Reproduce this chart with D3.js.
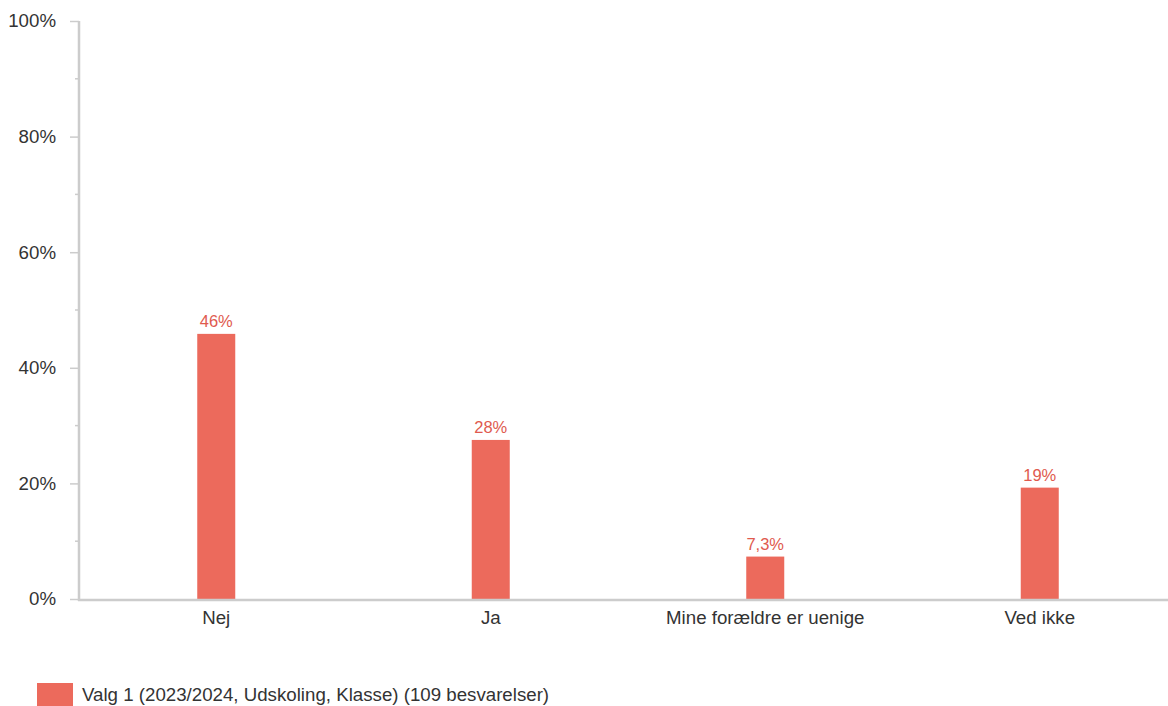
<!DOCTYPE html>
<html><head><meta charset="utf-8">
<script src="https://cdn.jsdelivr.net/npm/d3@7"></script>
<style>body{margin:0;background:#fff}svg{display:block;font-family:"Liberation Sans",Arial,sans-serif}</style>
</head><body><svg id="c" width="1168" height="706"></svg>
<script>
const categories = ["Nej", "Ja", "Mine forældre er uenige", "Ved ikke"];
const values = [45.87, 27.52, 7.34, 19.27];
const valueLabels = ["46%", "28%", "7,3%", "19%"];
const yTicks = [0, 20, 40, 60, 80, 100];
const yMinorTicks = [10, 30, 50, 70, 90];
const seriesName = "Valg 1 (2023/2024, Udskoling, Klasse) (109 besvarelser)";

(function () {
const svg = d3.select("#c");
const mLeft = 79, mTop = 21, mBottom = 599;
const x = d3.scaleBand().domain(categories).range([mLeft, 1177]).paddingInner(0).paddingOuter(0);
const y = d3.scaleLinear().domain([0, 100]).range([mBottom, mTop]);
const barW = 38;
const barColor = "#EC6A5C", labelColor = "#E05A4E", axisColor = "#cccccc", textColor = "#333";
const fs = "18.7px";

// y axis
const ya = svg.append("g").attr("transform", `translate(${mLeft},0)`)
  .call(d3.axisLeft(y).tickValues(yTicks).tickFormat(d => d + "%").tickSize(9).tickPadding(14));
ya.select(".domain").remove();
ya.selectAll("line").attr("stroke", axisColor).attr("stroke-width", 1.5);
ya.selectAll("text").attr("fill", textColor).style("font-size", fs);
svg.append("g").selectAll("line").data(yMinorTicks).join("line")
  .attr("x1", mLeft - 4).attr("x2", mLeft).attr("y1", d => y(d)).attr("y2", d => y(d))
  .attr("stroke", axisColor).attr("stroke-width", 1.5);
svg.append("line").attr("x1", mLeft).attr("x2", mLeft).attr("y1", mTop).attr("y2", mBottom + 2)
  .attr("stroke", axisColor).attr("stroke-width", 2.5);

// bars
svg.append("g").selectAll("rect").data(values).join("rect")
  .attr("x", (d, i) => x(categories[i]) + x.bandwidth() / 2 - barW / 2)
  .attr("width", barW)
  .attr("y", d => y(d)).attr("height", d => mBottom - y(d))
  .attr("fill", barColor);
svg.append("g").selectAll("text").data(values).join("text")
  .attr("x", (d, i) => x(categories[i]) + x.bandwidth() / 2)
  .attr("y", d => y(d) - 7)
  .attr("text-anchor", "middle").attr("fill", labelColor).style("font-size", "16.5px")
  .text((d, i) => valueLabels[i]);

// x axis
svg.append("line").attr("x1", mLeft - 1).attr("x2", 1168).attr("y1", mBottom + 1).attr("y2", mBottom + 1)
  .attr("stroke", axisColor).attr("stroke-width", 2.5);
svg.append("g").selectAll("text").data(categories).join("text")
  .attr("x", d => x(d) + x.bandwidth() / 2).attr("y", 624)
  .attr("text-anchor", "middle").attr("fill", textColor).style("font-size", fs)
  .text(d => d);

// legend
svg.append("rect").attr("x", 37).attr("y", 683).attr("width", 36).attr("height", 23).attr("fill", barColor);
svg.append("text").attr("x", 82).attr("y", 701).attr("fill", textColor).style("font-size", fs).text(seriesName);
})();
</script></body></html>
